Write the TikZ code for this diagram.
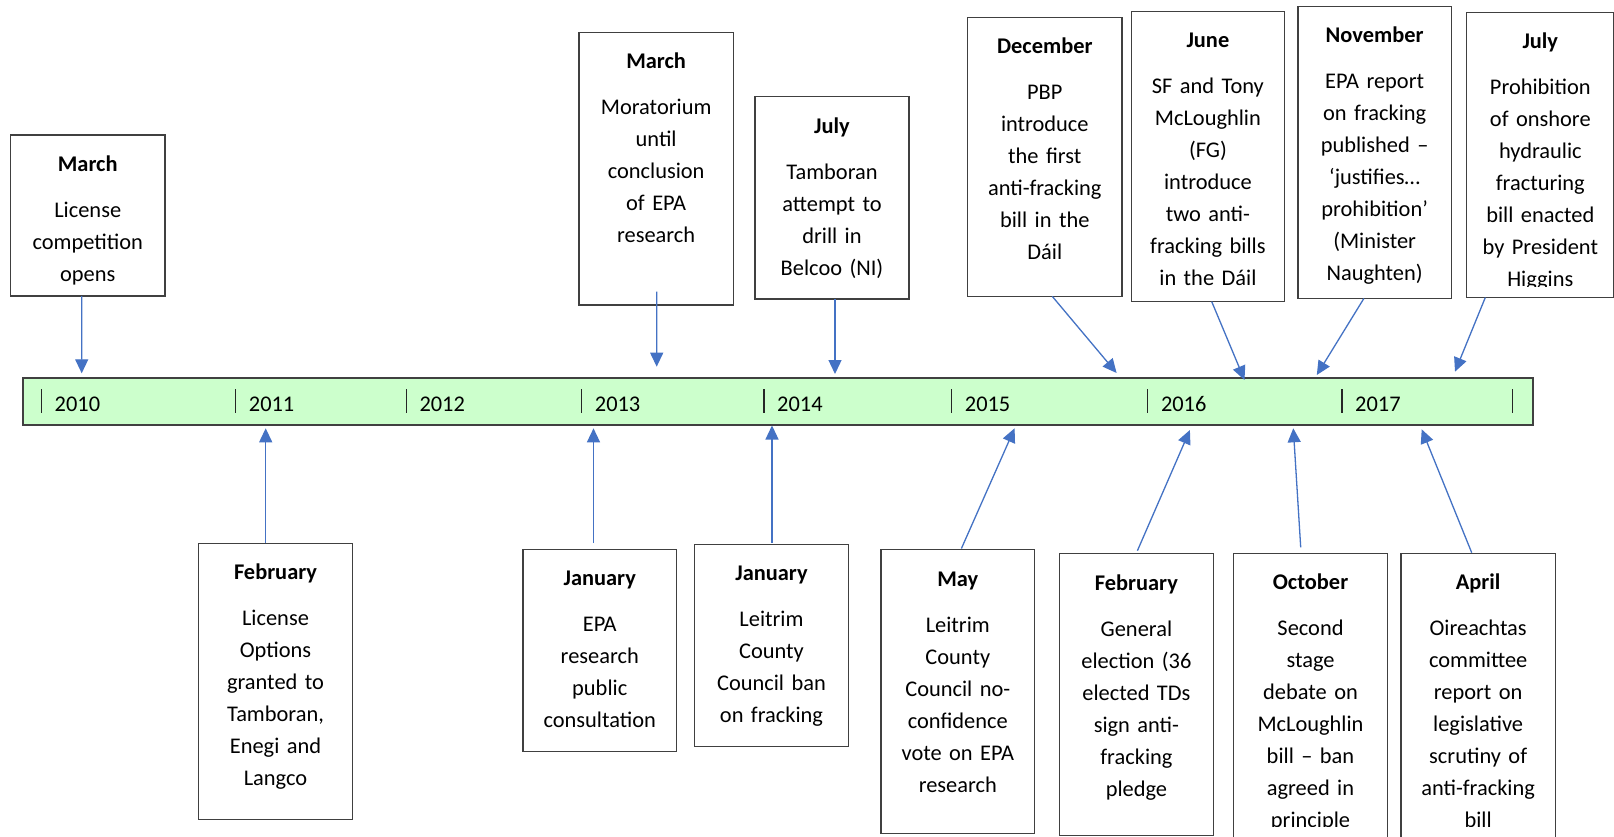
\documentclass[tikz,border=0pt]{standalone}
\usepackage{fontspec}
\setmainfont{Carlito}
\usetikzlibrary{arrows.meta,calc}

\definecolor{framegray}{HTML}{404040}
\definecolor{bargreen}{HTML}{CCFFCC}
\definecolor{arrowblue}{HTML}{4472C4}

\tikzset{
  evframe/.style={draw=framegray, line width=1.3pt, inner sep=0pt, outer sep=0pt, fill=white},
  evtext/.style={align=center, text width=150pt, inner sep=0pt,
                 font=\fontsize{22.4pt}{32pt}\selectfont},
  yeartext/.style={inner sep=0pt, anchor=base west, font=\fontsize{22.4pt}{32pt}\selectfont},
  barbox/.style={draw=framegray, line width=2pt, fill=bargreen, inner sep=0pt, outer sep=0pt},
  yeartick/.style={draw=black!85, line width=1.3pt},
  evarrow/.style={draw=arrowblue, line width=1.3pt, -{Triangle[width=13pt,length=14pt]}},
}

% #1 name, #2 x, #3 top y, #4 width, #5 height, #6 month, #7 description
\newcommand\eventbox[7]{%
  \node[evframe, minimum width=#4pt, minimum height=#5pt, anchor=north west] (#1) at (#2,#3) {};
  \begin{scope}
    \clip (#1.north west) rectangle ($(#1.south east)+(0,-11.5)$);
    \node[evtext, anchor=north] (#1-txt) at ($(#1.north)+(0,16.2)$)
      {\rule{0pt}{20pt}\textbf{#6}\\[14pt]#7};
  \end{scope}
}

\begin{document}
\begin{tikzpicture}[x=1pt, y=-1pt]
\useasboundingbox[fill=white] (0,0) rectangle (1614,837);

% timeline bar
\node[barbox, minimum width=1509.4pt, minimum height=46.7pt, anchor=north west] (timeline) at (23.3,378) {};
\foreach \tx/\yr in {41.5/2010, 235.7/2011, 406.3/2012, 581.7/2013, 764/2014, 951.7/2015, 1147.8/2016, 1342/2017} {
  \draw[yeartick] (\tx,389.3) -- (\tx,413.3);
  \node[yeartext] (y\yr) at (\tx+13,411.5) {\yr};
}
\draw[yeartick] (1512.3,389.3) -- (1512.3,413.3);

% events above the line
\eventbox{mar10}{10.5}{135}{154.5}{161}{March}{License\\competition\\opens}
\eventbox{mar13}{579}{32.3}{154.3}{272.7}{March}{Moratorium\\until\\conclusion\\of EPA\\research}
\eventbox{jul14}{755}{96.7}{154}{202.3}{July}{Tamboran\\attempt to\\drill in\\Belcoo (NI)}
\eventbox{dec}{967.6}{17.5}{154.4}{278.9}{December}{PBP\\introduce\\the first\\anti-fracking\\bill in the\\Dáil}
\eventbox{jun}{1131.2}{11.3}{153.4}{290.3}{June}{SF and Tony\\McLoughlin\\(FG)\\introduce\\two anti-\\fracking bills\\in the Dáil}
\eventbox{nov}{1298}{6.2}{153.3}{292.3}{November}{EPA report\\on fracking\\published –\\‘justifies…\\prohibition’\\(Minister\\Naughten)}
\eventbox{jul17}{1466.8}{12.4}{147}{285.1}{July}{Prohibition\\of onshore\\hydraulic\\fracturing\\bill enacted\\by President\\Higgins}

% events below the line
\eventbox{feb11}{198.5}{543.4}{154}{275.9}{February}{License\\Options\\granted to\\Tamboran,\\Enegi and\\Langco}
\eventbox{janEPA}{523}{549.5}{153.5}{201.9}{January}{EPA\\research\\public\\consultation}
\eventbox{janLeit}{694.8}{544.5}{153.4}{201.7}{January}{Leitrim\\County\\Council ban\\on fracking}
\eventbox{may}{881.1}{549.7}{153.4}{284}{May}{Leitrim\\County\\Council no-\\confidence\\vote on EPA\\research}
\eventbox{feb16}{1059.2}{553.8}{154.4}{282}{February}{General\\election (36\\elected TDs\\sign anti-\\fracking\\pledge}
\eventbox{oct}{1233.3}{553.3}{154.4}{284.7}{October}{Second\\stage\\debate on\\McLoughlin\\bill – ban\\agreed in\\principle}
\eventbox{apr}{1401}{553.3}{154.3}{284.7}{April}{Oireachtas\\committee\\report on\\legislative\\scrutiny of\\anti-fracking\\bill}

% arrow tips on the timeline
\coordinate (t-mar10) at (81.7,373.3);
\coordinate (t-mar13) at (656.7,366.7);
\coordinate (t-jul14) at (835,374);
\coordinate (t-dec) at (1116.6,373);
\coordinate (t-jun) at (1244.5,380);
\coordinate (t-nov) at (1316.8,375);
\coordinate (t-jul17) at (1455,371.7);
\coordinate (t-feb11) at (265.7,428.3);
\coordinate (t-janEPA) at (593.5,428.3);
\coordinate (t-janLeit) at (772,425.5);
\coordinate (t-may) at (1014.6,428.3);
\coordinate (t-feb16) at (1189.9,430);
\coordinate (t-oct) at (1293.3,428.3);
\coordinate (t-apr) at (1421.7,429.3);

% connectors
\draw[evarrow] ($(mar10.south)+(-6,0)$) -- (t-mar10);
\draw[evarrow] ($(mar13.south)+(0.5,-13.3)$) -- (t-mar13);
\draw[evarrow] ($(jul14.south)+(3,0)$) -- (t-jul14);
\draw[evarrow] ($(dec.south)+(7.5,0)$) -- (t-dec);
\draw[evarrow] ($(jun.south)+(3.8,0)$) -- (t-jun);
\draw[evarrow] ($(nov.south)+(-10.8,0)$) -- (t-nov);
\draw[evarrow] ($(jul17.south)+(-55,0)$) -- (t-jul17);
\draw[evarrow] ($(feb11.north)+(-9.8,0)$) -- (t-feb11);
\draw[evarrow] ($(janEPA.north)+(-6.25,-6.5)$) -- (t-janEPA);
\draw[evarrow] ($(janLeit.north)+(0.5,-2)$) -- (t-janLeit);
\draw[evarrow] ($(may.north)+(3.6,-1.2)$) -- (t-may);
\draw[evarrow] ($(feb16.north)+(1,-3.1)$) -- (t-feb16);
\draw[evarrow] ($(oct.north)+(-9.8,-6)$) -- (t-oct);
\draw[evarrow] ($(apr.north)+(-6.45,-0.6)$) -- (t-apr);
\end{tikzpicture}
\end{document}
